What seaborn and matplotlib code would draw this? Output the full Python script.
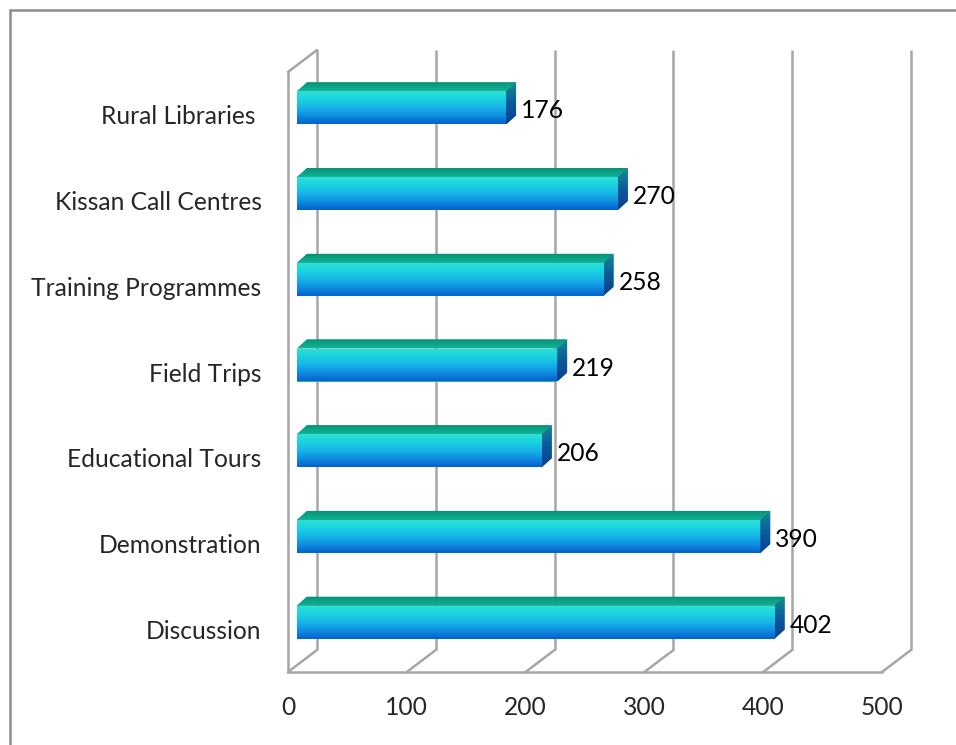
import numpy as np
import matplotlib
matplotlib.use("Agg")
import matplotlib.pyplot as plt
import seaborn as sns
import pandas as pd
from matplotlib.patches import Polygon
from matplotlib.colors import LinearSegmentedColormap
from matplotlib.lines import Line2D

# ---- data ----
categories = ["Rural Libraries ", "Kissan Call Centres", "Training Programmes",
              "Field Trips", "Educational Tours", "Demonstration", "Discussion"]
values = [176, 270, 258, 219, 206, 390, 402]
x_ticks = [0, 100, 200, 300, 400, 500]

# ---- style ----
sns.set_style("white")
plt.rcParams["font.family"] = ["Lato", "DejaVu Sans"]
FS = 17.7

W, H, DPI = 956, 745, 100
fig = plt.figure(figsize=(W / DPI, H / DPI), dpi=DPI)
fig.patch.set_facecolor("white")

ax_l, ax_b, ax_w, ax_h = 288, 73, 594, 600  # pixels
ax = fig.add_axes([ax_l / W, ax_b / H, ax_w / W, ax_h / H])
ax.set_facecolor("none")

df = pd.DataFrame({"category": categories, "value": values})
sns.barplot(data=df, x="value", y="category", order=categories, orient="h",
            width=0.385, color="#19b8e0", ax=ax, zorder=3)

XMIN, XMAX = x_ticks[0], x_ticks[-1]
n = len(categories)
YTOP, YBOT = -0.5, n - 0.5
ax.set_xlim(XMIN, XMAX)
ax.set_ylim(YBOT, YTOP)

sx = (XMAX - XMIN) / ax_w      # data units per pixel (x)
sy = (YBOT - YTOP) / ax_h      # data units per pixel (y, up = negative)

GRID = "#a6a6a6"
# 3D wall depth
wdx, wdy = 29 * sx, 22 * sy
# bar front offset and bar depth
fdx, fdy = 9 * sx, 7 * sy
bdx, bdy = 10 * sx, 9 * sy

# back wall gridlines + floor diagonals
for v in x_ticks:
    ax.plot([v + wdx, v + wdx], [YTOP - wdy, YBOT - wdy], color=GRID, lw=1.8,
            zorder=1, clip_on=False, solid_capstyle="butt")
    ax.plot([v, v + wdx], [YBOT, YBOT - wdy], color=GRID, lw=1.8,
            zorder=1, clip_on=False)
# left wall top edge
ax.plot([XMIN, XMIN + wdx], [YTOP, YTOP - wdy], color=GRID, lw=1.8,
        zorder=1, clip_on=False)

front_cmap = LinearSegmentedColormap.from_list(
    "front", ["#2ee0d6", "#1ad2e0", "#17b4e8", "#0f8ce0", "#0660cc"])
top_cmap = LinearSegmentedColormap.from_list("top", ["#07927a", "#12b394"])
side_cmap = LinearSegmentedColormap.from_list("side", ["#148c8c", "#0b5a9c", "#093f8f"])
grad = np.linspace(0, 1, 256).reshape(-1, 1)

for p, val in zip(ax.patches, values):
    x0, y0, w, h = p.get_x(), p.get_y(), p.get_width(), p.get_height()
    x0n, y0n = x0 + fdx, y0 - fdy
    x1n, y1n = x0n + w, y0n + h   # y1n = visual bottom
    p.set_x(x0n)
    p.set_y(y0n)
    p.set_edgecolor("none")
    im = ax.imshow(grad, cmap=front_cmap, aspect="auto", origin="upper",
                   extent=(x0n, x1n, y1n, y0n), zorder=3.1, interpolation="bilinear")
    im.set_clip_path(p)
    # top face
    top = Polygon([(x0n, y0n), (x1n, y0n), (x1n + bdx, y0n - bdy), (x0n + bdx, y0n - bdy)],
                  closed=True, facecolor="#0ea488", edgecolor="none", zorder=3)
    ax.add_patch(top)
    imt = ax.imshow(grad, cmap=top_cmap, aspect="auto", origin="upper",
                    extent=(x0n, x1n + bdx, y0n, y0n - bdy), zorder=3.1,
                    interpolation="bilinear")
    imt.set_clip_path(top)
    # side face
    side = Polygon([(x1n, y1n), (x1n, y0n), (x1n + bdx, y0n - bdy), (x1n + bdx, y1n - bdy)],
                   closed=True, facecolor="#0d6a98", edgecolor="none", zorder=3)
    ax.add_patch(side)
    ims = ax.imshow(grad, cmap=side_cmap, aspect="auto", origin="upper",
                    extent=(x1n, x1n + bdx, y1n, y0n - bdy), zorder=3.1,
                    interpolation="bilinear")
    ims.set_clip_path(side)

ax.set_xlim(XMIN, XMAX)
ax.set_ylim(YBOT, YTOP)

# value labels
for i, val in enumerate(values):
    ax.annotate(f"{val}", xy=(val, i), xytext=(24, 4), textcoords="offset pixels",
                ha="left", va="center", fontsize=FS, color="black", zorder=5)

# axes styling
for s in ["top", "right"]:
    ax.spines[s].set_visible(False)
for s in ["left", "bottom"]:
    ax.spines[s].set_color(GRID)
    ax.spines[s].set_linewidth(1.8)
    ax.spines[s].set_zorder(2)

ax.set_xticks(x_ticks)
ax.set_xticklabels([str(t) for t in x_ticks])
ax.set_yticks(range(n))
ax.set_yticklabels(categories)
ax.set_yticks(np.arange(-0.5, n, 1.0), minor=True)
ax.tick_params(axis="x", which="major", direction="out", length=5, width=1.5,
               color=GRID, labelsize=FS, pad=12)
ax.tick_params(axis="y", which="major", length=0, labelsize=FS, pad=19)
ax.tick_params(axis="y", which="minor", direction="out", length=5, width=1.5, color=GRID)
ax.set_xlabel("")
ax.set_ylabel("")
ax.grid(False)

# outer chart-area border (left and top edges visible)
fig.add_artist(Line2D([9.5 / W, 9.5 / W], [0, 1 - 9.5 / H], transform=fig.transFigure,
                      color="#8c8c8c", lw=1.8))
fig.add_artist(Line2D([9.5 / W, 1], [1 - 9.5 / H, 1 - 9.5 / H], transform=fig.transFigure,
                      color="#8c8c8c", lw=1.8))

fig.savefig("out.png", dpi=DPI, facecolor="white")
